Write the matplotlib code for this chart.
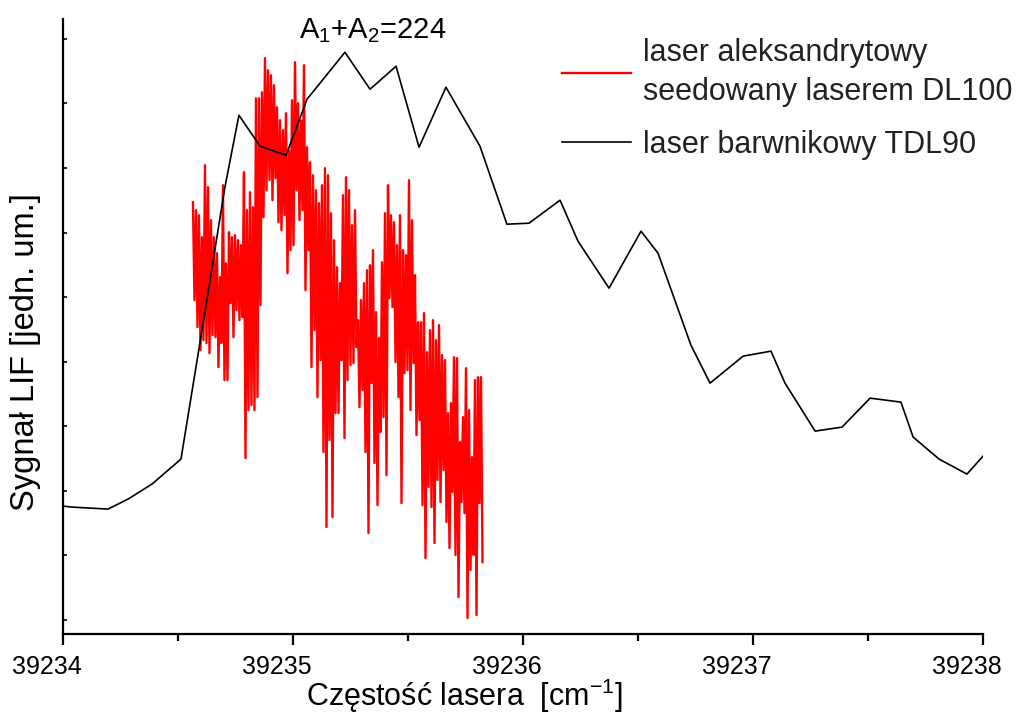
import numpy as np
import matplotlib.pyplot as plt
from matplotlib.ticker import MultipleLocator
from matplotlib.transforms import ScaledTranslation

plt.rcParams['font.family'] = ['Liberation Sans', 'DejaVu Sans']
plt.rcParams['mathtext.fontset'] = 'custom'
plt.rcParams['mathtext.rm'] = 'Liberation Sans'
plt.rcParams['mathtext.it'] = 'Liberation Sans'

# laser barwnikowy TDL90 (black)
tdl_x = [39234.000, 39234.039, 39234.196, 39234.283, 39234.387, 39234.513,
         39234.613, 39234.704, 39234.765, 39234.857, 39234.970, 39235.061,
         39235.226, 39235.335, 39235.448, 39235.548, 39235.665, 39235.813,
         39235.930, 39236.026, 39236.161, 39236.239, 39236.374, 39236.513,
         39236.587, 39236.730, 39236.813, 39236.957, 39237.078, 39237.139,
         39237.270, 39237.387, 39237.509, 39237.643, 39237.696, 39237.809,
         39237.930, 39238.000]
tdl_y = [128, 127, 125, 135, 150, 175, 316, 447, 519, 488, 479, 535,
         582, 545, 568, 487, 547, 488, 410, 411, 434, 393, 346, 403,
         381, 289, 251, 278, 283, 251, 203, 207, 236, 232, 197, 175,
         160, 178]

# laser aleksandrytowy seedowany DL100 (red), sampled evenly
alex_start = 39234.5652
alex_end = 39235.8239
alex_y = [432, 334, 424, 307, 419, 284, 397, 294, 469, 291, 447, 281,
          414, 299, 397, 297, 381, 267, 357, 291, 449, 254, 371, 254,
          402, 331, 397, 297, 399, 324, 394, 314, 389, 317, 462, 176,
          424, 224, 442, 229, 427, 224, 536, 237, 536, 329, 542, 417,
          576, 444, 564, 454, 559, 434, 549, 456, 527, 412, 514, 404,
          504, 419, 521, 361, 484, 384, 534, 389, 572, 444, 531, 414,
          514, 424, 569, 344, 487, 384, 472, 267, 459, 304, 444, 237,
          431, 274, 449, 182, 466, 107, 459, 194, 421, 117, 394, 221,
          367, 221, 351, 274, 439, 196, 457, 254, 444, 269, 409, 271,
          424, 287, 314, 227, 334, 244, 351, 182, 364, 101, 369, 251,
          384, 171, 322, 129, 296, 202, 372, 217, 421, 159, 449, 336,
          419, 327, 412, 272, 389, 237, 419, 131, 384, 261, 379, 264,
          454, 224, 414, 271, 359, 199, 312, 214, 312, 129, 321, 76,
          282, 147, 304, 127, 314, 91, 294, 154, 309, 132, 279, 164,
          274, 112, 221, 86, 231, 142, 277, 79, 276, 37, 192, 132,
          217, 121, 266, 16, 224, 64, 177, 79, 254, 19, 257, 131,
          257, 72]
alex_x = np.linspace(alex_start, alex_end, len(alex_y))

fig = plt.figure(figsize=(10.22, 7.14), dpi=100)
ax = fig.add_axes([0.0616, 0.112, 0.9003, 0.861])

ax.plot(alex_x, alex_y, color="red", linewidth=1.7,
        label="laser aleksandrytowy\nseedowany laserem DL100")
ax.plot(tdl_x, tdl_y, color="black", linewidth=1.2,
        label="laser barwnikowy TDL90")

ax.set_xlim(39234, 39238)
ax.set_ylim(0, 615)
ax.spines['top'].set_visible(False)
ax.spines['right'].set_visible(False)
ax.spines['left'].set_linewidth(1.6)
ax.spines['bottom'].set_linewidth(1.6)

ax.xaxis.set_major_locator(MultipleLocator(1))
ax.xaxis.set_minor_locator(MultipleLocator(0.5))
ax.tick_params(axis='x', which='major', direction='out', length=8, width=1.6,
               labelsize=18, pad=7)
ax.tick_params(axis='x', which='minor', direction='out', length=5, width=1.6)
ax.xaxis.set_major_formatter(plt.FuncFormatter(lambda v, p: "%d" % round(v)))
# tick labels sit a little left of their ticks in the original
shift = ScaledTranslation(-16 / 100, 0, fig.dpi_scale_trans)
for lab in ax.get_xticklabels():
    lab.set_transform(lab.get_transform() + shift)

ax.set_yticks(np.arange(14, 600, 64.6))
ax.tick_params(axis='y', direction='in', length=3, width=1.2, labelleft=False)

ax.set_xlabel("Częstość lasera  [cm$^{-1}$]", fontsize=22)
ax.xaxis.set_label_coords(0.436, -0.069)
ax.set_ylabel("Sygnał LIF [jedn. um.]", fontsize=23.5)
ax.yaxis.set_label_coords(-0.024, 0.459)

ax.text(39235.348, 604, "A$_1$+A$_2$=224", fontsize=21, ha='center', va='center')

leg = ax.legend(loc='upper left', bbox_to_anchor=(562 / 1022, 1 - 38 / 714),
                bbox_transform=fig.transFigure, frameon=False, fontsize=22,
                handlelength=2.25, handletextpad=0.4, labelspacing=0.75,
                borderpad=0, borderaxespad=0)
for t in leg.get_texts():
    t.set_linespacing(1.4)
    t.set_color("#222222")

plt.savefig("out.png", dpi=100)
